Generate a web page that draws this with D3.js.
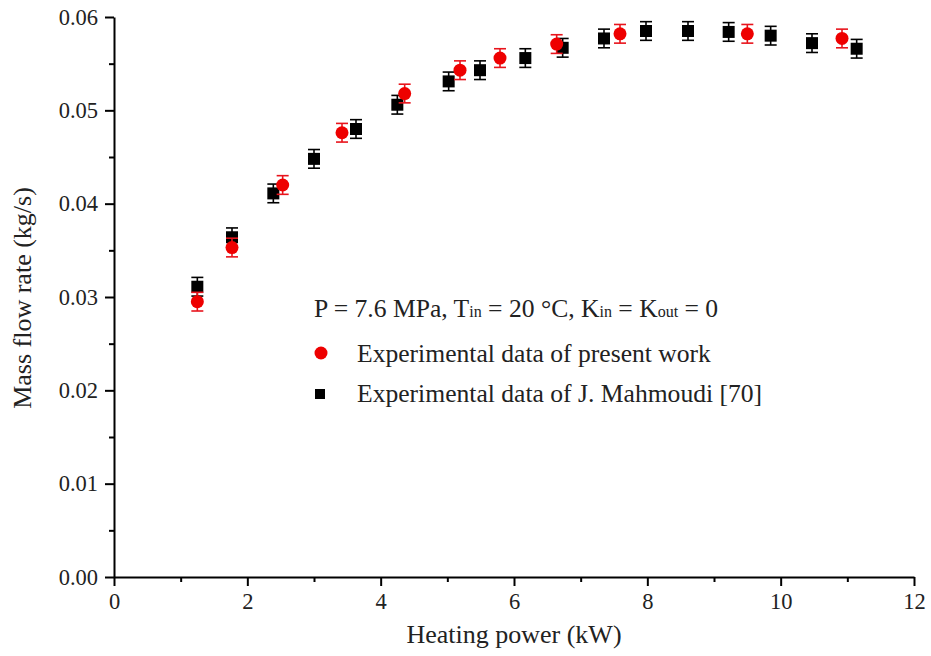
<!DOCTYPE html>
<html>
<head>
<meta charset="utf-8">
<script src="https://cdn.jsdelivr.net/npm/d3@7"></script>
<style>
  body { margin: 0; background: #fff; }
  svg { font-family: "Liberation Serif", "Times New Roman", serif; }
  .axis path, .axis line { stroke: #000; stroke-width: 2px; }
</style>
</head>
<body>
<svg id="chart" width="931" height="656"></svg>
<script>
"use strict";

// present work (red circles)
var presentPower = [1.25, 1.77, 2.53, 3.42, 4.36, 5.19, 5.79, 6.64, 7.59, 9.50, 10.92];
var presentFlow  = [0.0295, 0.0353, 0.0420, 0.0476, 0.0518, 0.0543, 0.0556, 0.0571, 0.0582, 0.0582, 0.0577];
var presentErr   = [0.001, 0.001, 0.001, 0.001, 0.001, 0.001, 0.001, 0.001, 0.001, 0.001, 0.001];

// J. Mahmoudi [70] (black squares)
var refPower = [1.25, 1.77, 2.39, 3.00, 3.63, 4.25, 5.02, 5.49, 6.17, 6.73, 7.35, 7.98, 8.61, 9.22, 9.85, 10.47, 11.14];
var refFlow  = [0.0311, 0.0364, 0.0411, 0.0448, 0.0480, 0.0506, 0.0531, 0.0543, 0.0556, 0.0567, 0.0577, 0.0585, 0.0585, 0.0584, 0.0580, 0.0572, 0.0566];
var refErr   = [0.001, 0.001, 0.001, 0.001, 0.001, 0.001, 0.001, 0.001, 0.001, 0.001, 0.001, 0.001, 0.001, 0.001, 0.001, 0.001, 0.001];

var xTicks = [0, 2, 4, 6, 8, 10, 12];
var yTicks = [0.00, 0.01, 0.02, 0.03, 0.04, 0.05, 0.06];

var svg = d3.select("#chart");
var plotLeft = 114, plotRight = 914, plotTop = 17, plotBottom = 577;
var serif = "Liberation Serif, Times New Roman, serif";

var x = d3.scaleLinear().domain([0, 12]).range([plotLeft, plotRight]);
var y = d3.scaleLinear().domain([0, 0.06]).range([plotBottom, plotTop]);

// minor ticks first
svg.append("g")
  .attr("class", "axis")
  .attr("transform", "translate(0," + plotBottom + ")")
  .call(d3.axisBottom(x).tickValues([1, 3, 5, 7, 9, 11]).tickSize(5).tickFormat(""))
  .select(".domain").remove();

svg.append("g")
  .attr("class", "axis")
  .attr("transform", "translate(" + plotLeft + ",0)")
  .call(d3.axisLeft(y).tickValues([0.005, 0.015, 0.025, 0.035, 0.045, 0.055]).tickSize(5).tickFormat(""))
  .select(".domain").remove();

var xAxis = svg.append("g")
  .attr("class", "axis")
  .attr("transform", "translate(0," + plotBottom + ")")
  .call(d3.axisBottom(x).tickValues(xTicks).tickSize(9).tickSizeOuter(0).tickPadding(7).tickFormat(d3.format("d")));

var yAxis = svg.append("g")
  .attr("class", "axis")
  .attr("transform", "translate(" + plotLeft + ",0)")
  .call(d3.axisLeft(y).tickValues(yTicks).tickSize(9).tickSizeOuter(0).tickPadding(7).tickFormat(d3.format(".2f")));

[xAxis, yAxis].forEach(function(a) {
  a.attr("font-family", null).attr("font-size", null);
  a.selectAll("text")
    .style("font-family", serif)
    .style("font-size", "22.5px")
    .style("fill", "#222");
});

// axis titles
svg.append("text")
  .attr("x", 514)
  .attr("y", 643)
  .attr("text-anchor", "middle")
  .style("font-size", "26px")
  .style("fill", "#222")
  .text("Heating power (kW)");

svg.append("text")
  .attr("transform", "translate(31,298) rotate(-90)")
  .attr("text-anchor", "middle")
  .style("font-size", "26px")
  .style("fill", "#222")
  .text("Mass flow rate (kg/s)");

function errorBars(xs, ys, es, color) {
  var g = svg.append("g").attr("stroke", color).attr("stroke-width", 1.6);
  var d = d3.range(xs.length);
  g.selectAll("line.v").data(d).enter().append("line")
    .attr("class", "v")
    .attr("x1", function(i) { return x(xs[i]); })
    .attr("x2", function(i) { return x(xs[i]); })
    .attr("y1", function(i) { return y(ys[i] - es[i]); })
    .attr("y2", function(i) { return y(ys[i] + es[i]); });
  [-1, 1].forEach(function(s) {
    g.selectAll("line.cap" + (s + 1)).data(d).enter().append("line")
      .attr("class", "cap" + (s + 1))
      .attr("x1", function(i) { return x(xs[i]) - 6; })
      .attr("x2", function(i) { return x(xs[i]) + 6; })
      .attr("y1", function(i) { return y(ys[i] + s * es[i]); })
      .attr("y2", function(i) { return y(ys[i] + s * es[i]); });
  });
}

// black squares
errorBars(refPower, refFlow, refErr, "#000");
svg.append("g").selectAll("rect").data(d3.range(refPower.length)).enter().append("rect")
  .attr("x", function(i) { return x(refPower[i]) - 6; })
  .attr("y", function(i) { return y(refFlow[i]) - 6; })
  .attr("width", 12)
  .attr("height", 12)
  .attr("fill", "#000");

// red circles
errorBars(presentPower, presentFlow, presentErr, "#e8141c");
svg.append("g").selectAll("circle").data(d3.range(presentPower.length)).enter().append("circle")
  .attr("cx", function(i) { return x(presentPower[i]); })
  .attr("cy", function(i) { return y(presentFlow[i]); })
  .attr("r", 6.5)
  .attr("fill", "#ee0000");

// legend
var legend = svg.append("g").style("font-size", "25.6px").style("fill", "#222");

var cond = legend.append("text").attr("x", 314).attr("y", 317);
cond.append("tspan").text("P = 7.6 MPa, T");
cond.append("tspan").style("font-size", "16px").text("in");
cond.append("tspan").text(" = 20 \u00B0C, K");
cond.append("tspan").style("font-size", "16px").text("in");
cond.append("tspan").text(" = K");
cond.append("tspan").style("font-size", "16px").text("out");
cond.append("tspan").text(" = 0");

legend.append("circle").attr("cx", 321).attr("cy", 353).attr("r", 6.5).attr("fill", "#ee0000");
legend.append("text").attr("x", 357).attr("y", 362).text("Experimental data of present work");

legend.append("rect").attr("x", 315).attr("y", 389).attr("width", 10).attr("height", 10).attr("fill", "#000");
legend.append("text").attr("x", 357).attr("y", 402).text("Experimental data of J. Mahmoudi [70]");
</script>
</body>
</html>
